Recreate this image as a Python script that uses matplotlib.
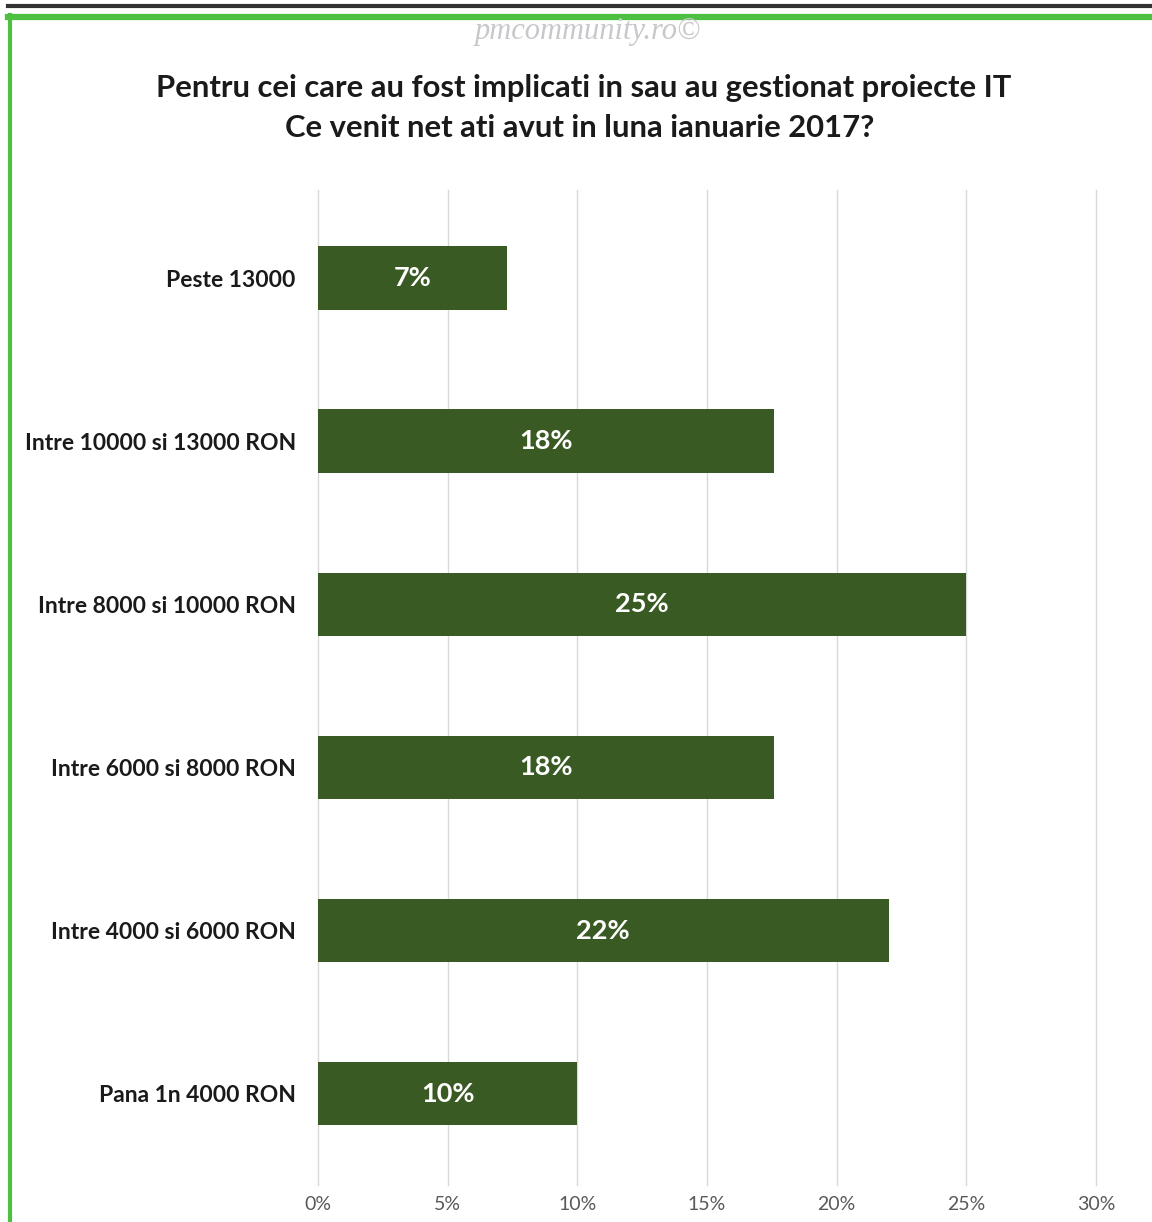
import matplotlib
matplotlib.use("Agg")
import matplotlib.pyplot as plt
from matplotlib.lines import Line2D

categories = ["Peste 13000", "Intre 10000 si 13000 RON", "Intre 8000 si 10000 RON",
              "Intre 6000 si 8000 RON", "Intre 4000 si 6000 RON", "Pana 1n 4000 RON"]
values = [7.3, 17.6, 25.0, 17.6, 22.0, 10.0]
labels = ["7%", "18%", "25%", "18%", "22%", "10%"]
xticks = [0, 5, 10, 15, 20, 25, 30]
xticklabels = ["0%", "5%", "10%", "15%", "20%", "25%", "30%"]
title1 = "Pentru cei care au fost implicati in sau au gestionat proiecte IT"
title2 = "Ce venit net ati avut in luna ianuarie 2017?"

W, H = 1152, 1222
fig = plt.figure(figsize=(W / 100, H / 100), dpi=100)
fig.patch.set_facecolor("white")

ax = fig.add_axes([318 / W, 1 - 1185 / H, (1096 - 318) / W, (1185 - 190) / H])
ypos = list(range(len(categories)))
ax.barh(ypos, values, height=0.39, color="#3a5a24", zorder=3)
for y, v, lab in zip(ypos, values, labels):
    ax.text(v / 2, y, lab, ha="center", va="center", color="white",
            fontsize=19.5, fontweight="bold", family="Lato", zorder=4)
ax.set_ylim(len(categories) - 1 + 0.56, -0.54)
ax.set_xlim(0, 30)
ax.set_xticks(xticks)
ax.set_xticklabels(xticklabels, family="Lato", fontsize=14, color="#595959")
ax.set_yticks(ypos)
ax.set_yticklabels(categories, family="Lato", fontsize=16.5, fontweight="bold", color="#1a1a1a")
ax.tick_params(axis="both", length=0)
ax.tick_params(axis="x", pad=8)
ax.tick_params(axis="y", pad=16)
ax.grid(axis="x", color="#d9d9d9", linewidth=1, zorder=0)
for gl in ax.xaxis.get_gridlines():
    gl.set_clip_on(False)
for s in ax.spines.values():
    s.set_visible(False)

fig.text(584 / W, 1 - 88 / H, title1, ha="center", va="center",
         fontsize=22.3, fontweight="bold", family="Lato", color="#1a1a1a")
fig.text(580 / W, 1 - 128 / H, title2, ha="center", va="center",
         fontsize=22.3, fontweight="bold", family="Lato", color="#1a1a1a")
fig.text(588 / W, 1 - 31 / H, "pmcommunity.ro©", ha="center", va="center",
         fontsize=22, style="italic", family="Liberation Serif", color="#c8c8cc")

# frame decorations
fig.add_artist(Line2D([8 / W, 1], [1 - 5.5 / H, 1 - 5.5 / H], color="#333333", linewidth=3, transform=fig.transFigure))
fig.add_artist(Line2D([8 / W, 1], [1 - 17 / H, 1 - 17 / H], color="#4cc040", linewidth=4.5, transform=fig.transFigure))
fig.add_artist(Line2D([10 / W, 10 / W], [1 - 15 / H, 0], color="#4cc040", linewidth=3, transform=fig.transFigure))

fig.savefig("out.png", dpi=100, facecolor="white")
